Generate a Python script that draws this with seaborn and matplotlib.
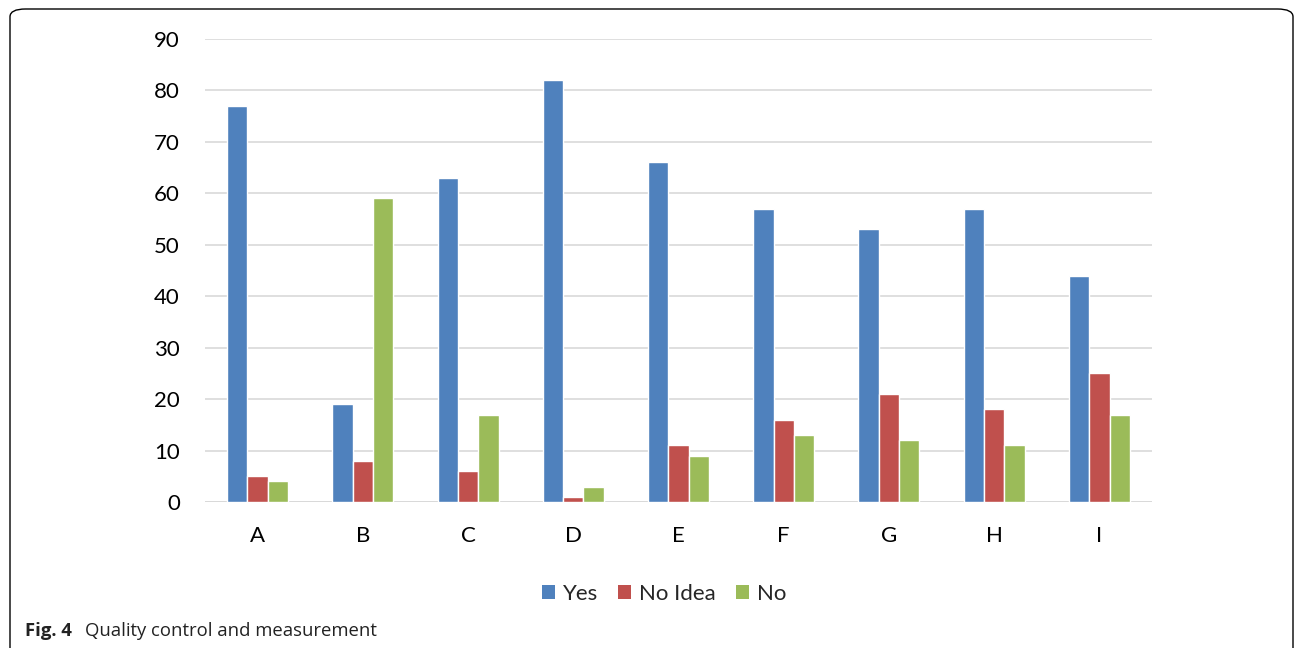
import matplotlib
matplotlib.use("Agg")
import matplotlib.pyplot as plt
import seaborn as sns
import pandas as pd
from matplotlib.patches import FancyBboxPatch, Patch

categories = ["A", "B", "C", "D", "E", "F", "G", "H", "I"]
yes = [77, 19, 63, 82, 66, 57, 53, 57, 44]
no_idea = [5, 8, 6, 1, 11, 16, 21, 18, 25]
no = [4, 59, 17, 3, 9, 13, 12, 11, 17]
series = ["Yes", "No Idea", "No"]
colors = ["#4F81BD", "#C0504D", "#9BBB59"]
yticks = [0, 10, 20, 30, 40, 50, 60, 70, 80, 90]

rows = []
for name, vals in zip(series, [yes, no_idea, no]):
    for c, v in zip(categories, vals):
        rows.append({"cat": c, "series": name, "value": v})
df = pd.DataFrame(rows)

sns.set_style("white")
plt.rcParams["font.family"] = ["Lato", "DejaVu Sans"]

fig = plt.figure(figsize=(12.95, 6.48), dpi=100)
ax = fig.add_axes([205/1295, 1-502/648, (1152-205)/1295, (502-39)/648])

sns.barplot(data=df, x="cat", y="value", hue="series", hue_order=series,
            order=categories, palette=colors, width=0.58, saturation=1,
            ax=ax, legend=False, errorbar=None)

ax.set_ylim(0, 90)
ax.set_yticks(yticks)
ax.set_yticklabels([str(t) for t in yticks])
ax.set_xlabel("")
ax.set_ylabel("")
for s in ax.spines.values():
    s.set_visible(False)
ax.yaxis.grid(True, color="#D9D9D9", linewidth=1.2)
ax.set_axisbelow(True)
ax.axhline(0, color="#D9D9D9", linewidth=1.4, zorder=0.5)
ax.tick_params(axis="both", length=0, labelsize=16, colors="black")
ax.tick_params(axis="y", pad=18)
ax.tick_params(axis="x", pad=17)

handles = [Patch(facecolor=c, edgecolor="none", label=s) for c, s in zip(colors, series)]
fig.legend(handles=handles, loc="center", bbox_to_anchor=(664/1295, 1-594/648),
           ncol=3, frameon=False, fontsize=16, handlelength=0.6, handleheight=0.6,
           handletextpad=0.35, columnspacing=0.9)

border = FancyBboxPatch((10/1295, -10/648), (1293-10)/1295, (648-9+10)/648,
                        boxstyle="round,pad=0,rounding_size=0.012",
                        transform=fig.transFigure, fill=False,
                        edgecolor="black", linewidth=1.0)
fig.patches.append(border)

fig.text(25/1295, 1-631/648, "Fig. 4", fontsize=13.3, fontweight="bold",
         family=["Open Sans", "DejaVu Sans"], va="center", ha="left", color="#222222")
fig.text(85/1295, 1-631/648, "Quality control and measurement", fontsize=13.3,
         family=["Open Sans", "DejaVu Sans"], va="center", ha="left", color="#222222")

fig.savefig("out.png", dpi=100)
